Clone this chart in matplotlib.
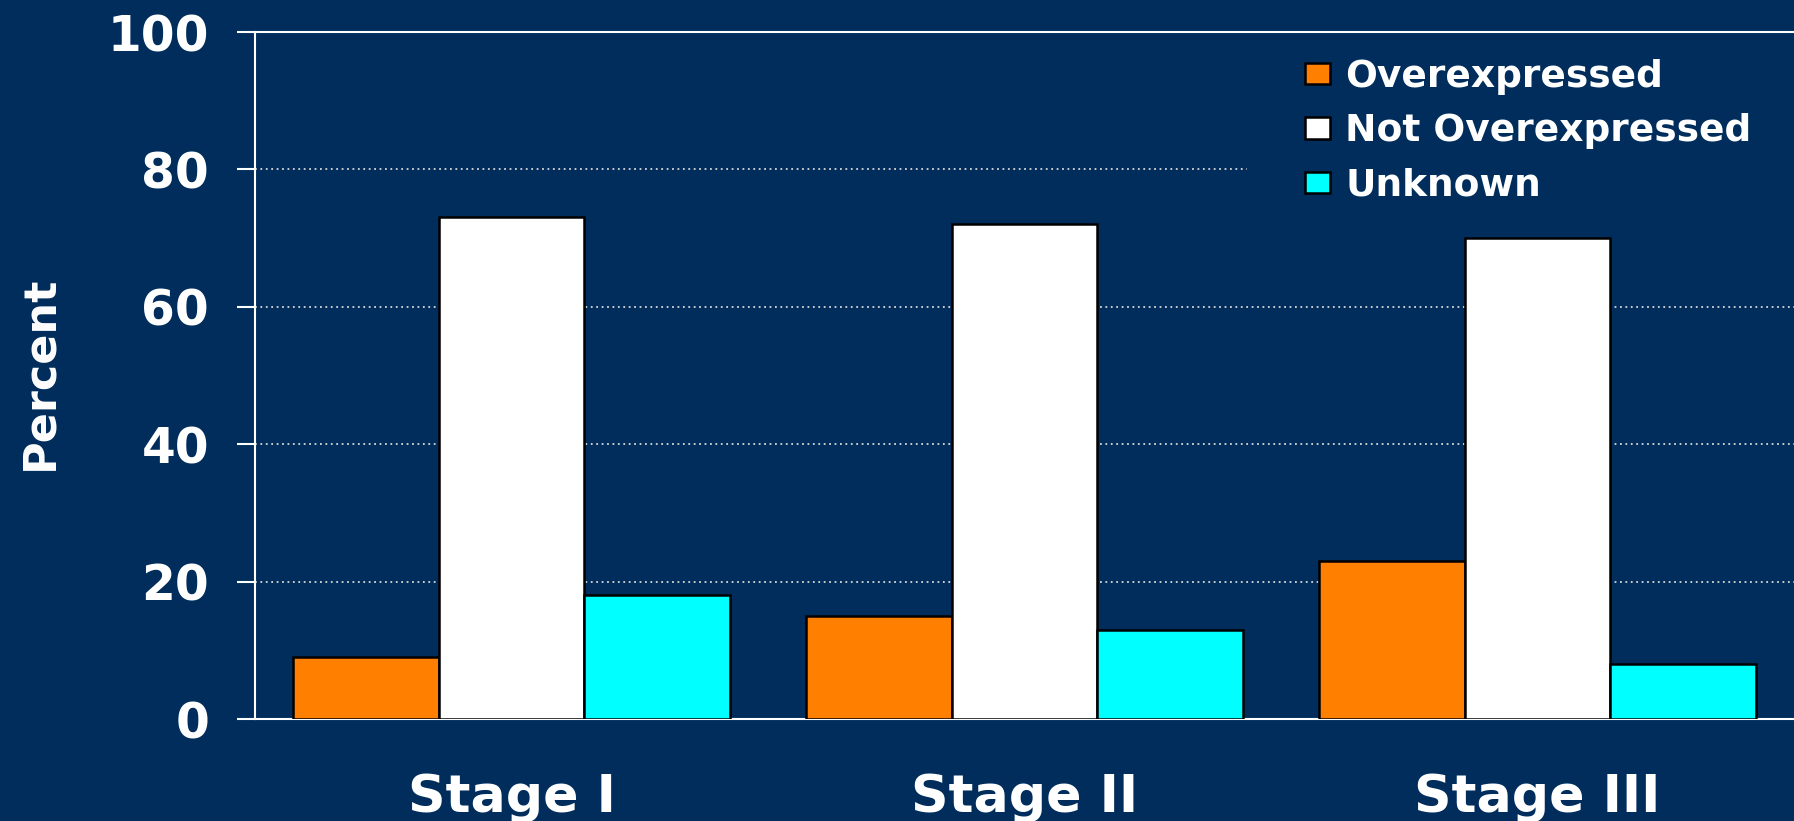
import matplotlib
matplotlib.use("Agg")
import matplotlib.pyplot as plt
import numpy as np
from matplotlib.patches import Patch

# Data
stages = ["Stage I", "Stage II", "Stage III"]
series_names = ["Overexpressed", "Not Overexpressed", "Unknown"]
overexpressed = [9, 15, 23]
not_overexpressed = [73, 72, 70]
unknown = [18, 13, 8]
y_ticks = [0, 20, 40, 60, 80, 100]

bg = "#002D5C"
colors = ["#FF7F00", "#FFFFFF", "#00FFFF"]

plt.rcParams["font.family"] = ["DejaVu Sans"]
plt.rcParams["font.weight"] = "bold"

W, H = 1794, 821
fig = plt.figure(figsize=(W / 100, H / 100), dpi=100, facecolor=bg)
ax = fig.add_axes([255 / W, 1 - 719 / H, 1 - 255 / W, (719 - 32) / H])
ax.set_facecolor(bg)

x = np.arange(len(stages))
width = 0.284
# bars sit above the legend box so the box only hides gridline behind it
for i, (vals, c, name) in enumerate(zip([overexpressed, not_overexpressed, unknown], colors, series_names)):
    ax.bar(x + (i - 1) * width, vals, width, color=c, edgecolor="black",
           linewidth=1.8, label=name, zorder=6)

ax.set_xlim(-0.5, 2.5)
ax.set_ylim(0, 100)
ax.set_yticks(y_ticks)
ax.set_yticklabels([str(t) for t in y_ticks], fontsize=35, fontweight="bold", color="white")
ax.set_xticks(x)
ax.set_xticklabels(stages, fontsize=37.5, fontweight="bold", color="white")
ax.tick_params(axis="x", length=0, pad=39)
ax.tick_params(axis="y", length=13, width=1.5, color="white", pad=20, direction="out")

# dotted horizontal gridlines
for t in y_ticks[1:-1]:
    ax.axhline(t, color="#D8D8D8", linestyle=(0, (1, 2)), linewidth=1.3, zorder=1)

ax.spines["right"].set_visible(False)
for side in ["left", "bottom", "top"]:
    ax.spines[side].set_color("white")
    ax.spines[side].set_linewidth(1.5)
ax.spines["top"].set_zorder(10)
ax.spines["bottom"].set_zorder(2)

fig.text(40 / W, 1 - 373 / H, "Percent", rotation=90, ha="center", va="center",
         fontsize=32, fontweight="bold", color="white")

handles = [Patch(facecolor=c, edgecolor="black", linewidth=1.8) for c in colors]
leg = ax.legend(handles, series_names, loc="upper left",
                bbox_to_anchor=(1247 / W, 0.999), bbox_transform=fig.transFigure,
                fontsize=27, frameon=True, facecolor=bg, edgecolor=bg, framealpha=1,
                fancybox=False, borderpad=1.55, handlelength=0.67, handleheight=0.51,
                handletextpad=0.4, labelspacing=0.49, borderaxespad=0)
for txt in leg.get_texts():
    txt.set_color("white")
    txt.set_fontweight("bold")
leg.set_zorder(5)

fig.savefig("out.png", dpi=100, facecolor=bg)
